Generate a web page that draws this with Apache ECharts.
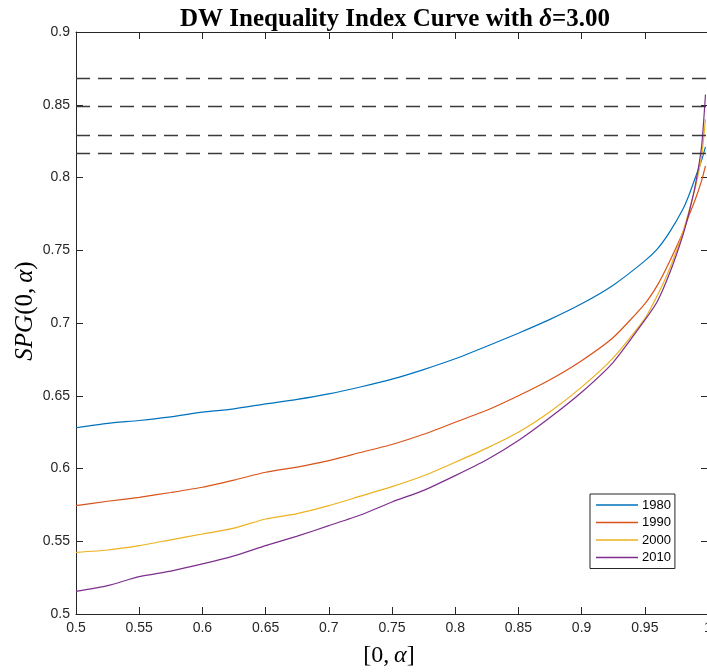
<!DOCTYPE html>
<html>
<head>
<meta charset="utf-8">
<script src="https://cdn.jsdelivr.net/npm/echarts@6/dist/echarts.min.js"></script>
<style>html,body{margin:0;padding:0;background:#fff;}#chart{width:707px;height:672px;}</style>
</head>
<body>
<div id="chart"></div>
<script>
const alphaValues = [0.5,0.525,0.55,0.575,0.6,0.625,0.65,0.675,0.7,0.725,0.75,0.775,0.8,0.825,0.85,0.875,0.9,0.925,0.95,0.96,0.97,0.98,0.985,0.99,0.995,0.998];
const seriesNames = ['1980','1990','2000','2010'];
const spg1980 = [0.628,0.631,0.633,0.6355,0.6387,0.641,0.6444,0.6475,0.6513,0.656,0.6614,0.668,0.6754,0.684,0.693,0.7025,0.7132,0.726,0.7427,0.751,0.763,0.778,0.788,0.800,0.812,0.821];
const spg1990 = [0.5745,0.5775,0.5802,0.5835,0.5871,0.592,0.5974,0.601,0.6054,0.611,0.6165,0.6235,0.6318,0.640,0.650,0.661,0.6741,0.690,0.7132,0.726,0.743,0.762,0.774,0.785,0.798,0.808];
const spg2000 = [0.5424,0.544,0.547,0.551,0.555,0.559,0.5653,0.569,0.5745,0.581,0.5875,0.595,0.6043,0.614,0.6249,0.639,0.6559,0.676,0.703,0.719,0.738,0.762,0.777,0.793,0.815,0.840];
const spg2010 = [0.5155,0.5195,0.5257,0.5295,0.5344,0.540,0.547,0.5535,0.5607,0.568,0.577,0.585,0.5951,0.606,0.6192,0.635,0.6524,0.673,0.702,0.715,0.735,0.760,0.776,0.795,0.822,0.857];
const dashedLevels = [0.8682,0.8487,0.8292,0.8170];
const xTicks = ['0.5','0.55','0.6','0.65','0.7','0.75','0.8','0.85','0.9','0.95','1'];
const yTicks = ['0.5','0.55','0.6','0.65','0.7','0.75','0.8','0.85','0.9'];
const colors = ['#0072BD','#D95319','#EDB120','#7E2F8E'];

const allSeries = [spg1980, spg1990, spg2000, spg2010];
const axisColor = '#262626';
const labelFont = {color: axisColor, fontFamily: '"Liberation Sans", Arial, sans-serif', fontSize: 14};

function fmt(v){ return String(parseFloat(Number(v).toFixed(4))); }

const chart = echarts.init(document.getElementById('chart'), null, {renderer: 'canvas'});
const series = allSeries.map((vals, i) => ({
  name: seriesNames[i],
  type: 'line',
  xAxisIndex: 0, yAxisIndex: 0,
  data: vals.map((v, j) => [alphaValues[j], v]),
  showSymbol: false,
  symbol: 'none',
  smooth: 0.2,
  lineStyle: {color: colors[i], width: 1.2},
  itemStyle: {color: colors[i]},
  z: 3
}));
series.push({
  name: 'levels',
  type: 'line',
  data: [],
  markLine: {
    silent: true,
    symbol: 'none',
    precision: 5,
    label: {show: false},
    lineStyle: {color: '#3a3a3a', width: 1.3, type: [14, 8]},
    data: dashedLevels.map(v => ({yAxis: v}))
  }
});

const option = {
  backgroundColor: '#ffffff',
  animation: false,
  color: colors,
  title: {
    text: 'DW Inequality Index Curve with {i|δ}=3.00',
    left: 390, top: 2, textAlign: 'center',
    textStyle: {
      fontFamily: '"Liberation Serif", "Times New Roman", serif',
      fontWeight: 'bold', fontSize: 25, color: '#000',
      rich: {i: {fontFamily: '"Liberation Serif", serif', fontWeight: 'bold', fontStyle: 'italic', fontSize: 25, color: '#000'}}
    }
  },
  grid: {left: 76, top: 32, width: 632, height: 582, containLabel: false, outerBoundsMode: 'none'},
  legend: {
    data: seriesNames,
    left: 590, top: 494,
    orient: 'vertical',
    icon: 'rect',
    itemWidth: 42, itemHeight: 1.5,
    itemGap: 3.5,
    padding: [4, 4, 4, 6],
    backgroundColor: '#fff',
    borderColor: axisColor, borderWidth: 1,
    textStyle: {color: '#000', fontFamily: '"Liberation Sans", Arial, sans-serif', fontSize: 13, lineHeight: 14, padding: [0,0,0,-1]}
  },
  xAxis: [{
    type: 'value', min: 0.5, max: 1, interval: 0.05, position: 'bottom',
    axisLine: {show: true, onZero: false, lineStyle: {color: axisColor, width: 1}},
    axisTick: {show: true, inside: true, length: 7, lineStyle: {color: axisColor}},
    axisLabel: Object.assign({margin: 7, formatter: v => xTicks[Math.round((v - 0.5) / 0.05)] || fmt(v), showMaxLabel: true}, labelFont),
    splitLine: {show: false}
  }, {
    type: 'value', min: 0.5, max: 1, interval: 0.05, position: 'top',
    axisLine: {show: true, onZero: false, lineStyle: {color: axisColor, width: 1}},
    axisTick: {show: true, inside: true, length: 7, lineStyle: {color: axisColor}},
    axisLabel: {show: false}, splitLine: {show: false}
  }],
  yAxis: [{
    type: 'value', min: 0.5, max: 0.9, interval: 0.05, position: 'left',
    axisLine: {show: true, onZero: false, lineStyle: {color: axisColor, width: 1}},
    axisTick: {show: true, inside: true, length: 7, lineStyle: {color: axisColor}},
    axisLabel: Object.assign({margin: 6, formatter: v => yTicks[Math.round((v - 0.5) / 0.05)] || fmt(v)}, labelFont),
    splitLine: {show: false}
  }, {
    type: 'value', min: 0.5, max: 0.9, interval: 0.05, position: 'right',
    axisLine: {show: true, onZero: false, lineStyle: {color: axisColor, width: 1}},
    axisTick: {show: true, inside: true, length: 7, lineStyle: {color: axisColor}},
    axisLabel: {show: false}, splitLine: {show: false}
  }],
  graphic: [{
    type: 'text',
    x: 389, y: 656,
    style: {
      text: '[0,\u2009{i|α}]',
      fontFamily: '"Liberation Serif", "DejaVu Serif", serif', fontSize: 24, fill: '#000',
      align: 'center', verticalAlign: 'middle',
      rich: {i: {fontFamily: '"Liberation Serif", serif', fontStyle: 'italic', fontSize: 24, fill: '#000'}}
    }
  }, {
    type: 'text',
    x: 25, y: 311,
    rotation: Math.PI / 2,
    style: {
      text: '{i|SPG}(0,\u2009{i|α})',
      fontFamily: '"Liberation Serif", "DejaVu Serif", serif', fontSize: 25, fill: '#000',
      align: 'center', verticalAlign: 'middle',
      rich: {i: {fontFamily: '"Liberation Serif", serif', fontStyle: 'italic', fontSize: 25, fill: '#000'}}
    }
  }],
  series: series
};
chart.setOption(option);
</script>
</body>
</html>
